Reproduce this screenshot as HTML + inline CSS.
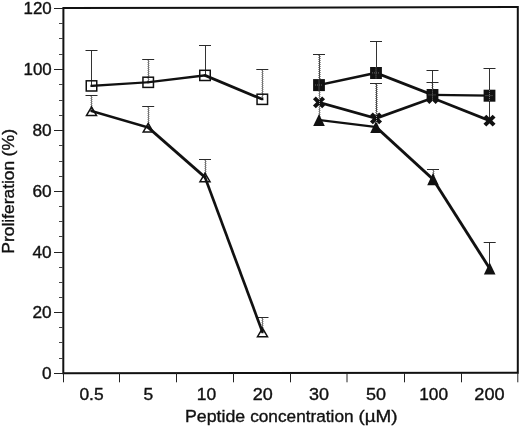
<!DOCTYPE html>
<html><head><meta charset="utf-8"><title>chart</title>
<style>
html,body{margin:0;padding:0;background:#fff;}
body{width:520px;height:427px;overflow:hidden;}
svg{display:block;filter:grayscale(1);}
text{font-family:"Liberation Sans",sans-serif;fill:#111;stroke:#111;stroke-width:0.35px;}
</style></head><body>
<svg width="520" height="427" viewBox="0 0 520 427">
<rect x="0" y="0" width="520" height="427" fill="#fff"/>

<polygon points="63.4,8.1 517.8,7.0 517.8,372.7 63.3,373.2" fill="none" stroke="#111" stroke-width="2"/>
<line x1="54" y1="373.50" x2="63" y2="373.50" stroke="#222" stroke-width="1"/>
<line x1="59" y1="358.50" x2="63" y2="358.50" stroke="#444" stroke-width="1"/>
<line x1="59" y1="342.50" x2="63" y2="342.50" stroke="#444" stroke-width="1"/>
<line x1="59" y1="327.50" x2="63" y2="327.50" stroke="#444" stroke-width="1"/>
<line x1="54" y1="312.50" x2="63" y2="312.50" stroke="#222" stroke-width="1"/>
<line x1="59" y1="297.50" x2="63" y2="297.50" stroke="#444" stroke-width="1"/>
<line x1="59" y1="282.50" x2="63" y2="282.50" stroke="#444" stroke-width="1"/>
<line x1="59" y1="267.50" x2="63" y2="267.50" stroke="#444" stroke-width="1"/>
<line x1="54" y1="252.50" x2="63" y2="252.50" stroke="#222" stroke-width="1"/>
<line x1="59" y1="236.50" x2="63" y2="236.50" stroke="#444" stroke-width="1"/>
<line x1="59" y1="221.50" x2="63" y2="221.50" stroke="#444" stroke-width="1"/>
<line x1="59" y1="206.50" x2="63" y2="206.50" stroke="#444" stroke-width="1"/>
<line x1="54" y1="191.50" x2="63" y2="191.50" stroke="#222" stroke-width="1"/>
<line x1="59" y1="176.50" x2="63" y2="176.50" stroke="#444" stroke-width="1"/>
<line x1="59" y1="161.50" x2="63" y2="161.50" stroke="#444" stroke-width="1"/>
<line x1="59" y1="145.50" x2="63" y2="145.50" stroke="#444" stroke-width="1"/>
<line x1="54" y1="130.50" x2="63" y2="130.50" stroke="#222" stroke-width="1"/>
<line x1="59" y1="115.50" x2="63" y2="115.50" stroke="#444" stroke-width="1"/>
<line x1="59" y1="100.50" x2="63" y2="100.50" stroke="#444" stroke-width="1"/>
<line x1="59" y1="84.50" x2="63" y2="84.50" stroke="#444" stroke-width="1"/>
<line x1="54" y1="69.50" x2="63" y2="69.50" stroke="#222" stroke-width="1"/>
<line x1="59" y1="54.50" x2="63" y2="54.50" stroke="#444" stroke-width="1"/>
<line x1="59" y1="38.50" x2="63" y2="38.50" stroke="#444" stroke-width="1"/>
<line x1="59" y1="23.50" x2="63" y2="23.50" stroke="#444" stroke-width="1"/>
<line x1="54" y1="8.50" x2="63" y2="8.50" stroke="#222" stroke-width="1"/>
<line x1="63.50" y1="373" x2="63.50" y2="382.3" stroke="#222" stroke-width="1"/>
<line x1="119.50" y1="373" x2="119.50" y2="382.3" stroke="#222" stroke-width="1"/>
<line x1="176.50" y1="373" x2="176.50" y2="382.3" stroke="#222" stroke-width="1"/>
<line x1="233.50" y1="373" x2="233.50" y2="382.3" stroke="#222" stroke-width="1"/>
<line x1="290.50" y1="373" x2="290.50" y2="382.3" stroke="#222" stroke-width="1"/>
<line x1="347.00" y1="373" x2="347.00" y2="382.3" stroke="#222" stroke-width="1"/>
<line x1="404.50" y1="373" x2="404.50" y2="382.3" stroke="#222" stroke-width="1"/>
<line x1="461.50" y1="373" x2="461.50" y2="382.3" stroke="#222" stroke-width="1"/>
<line x1="517.80" y1="373" x2="517.80" y2="382.3" stroke="#222" stroke-width="1"/>
<text x="51.7" y="379.10" font-size="15.8" text-anchor="end" textLength="9.6" lengthAdjust="spacingAndGlyphs">0</text>
<text x="51.7" y="318.10" font-size="15.8" text-anchor="end" textLength="19.2" lengthAdjust="spacingAndGlyphs">20</text>
<text x="51.7" y="257.70" font-size="15.8" text-anchor="end" textLength="19.2" lengthAdjust="spacingAndGlyphs">40</text>
<text x="51.7" y="197.20" font-size="15.8" text-anchor="end" textLength="19.2" lengthAdjust="spacingAndGlyphs">60</text>
<text x="51.7" y="136.30" font-size="15.8" text-anchor="end" textLength="19.2" lengthAdjust="spacingAndGlyphs">80</text>
<text x="51.7" y="75.30" font-size="15.8" text-anchor="end" textLength="28.2" lengthAdjust="spacingAndGlyphs">100</text>
<text x="51.7" y="13.60" font-size="15.8" text-anchor="end" textLength="28.2" lengthAdjust="spacingAndGlyphs">120</text>
<text x="91.5" y="399.7" font-size="15.8" text-anchor="middle" textLength="24.2" lengthAdjust="spacingAndGlyphs">0.5</text>
<text x="148.3" y="399.7" font-size="15.8" text-anchor="middle" textLength="9.7" lengthAdjust="spacingAndGlyphs">5</text>
<text x="206.5" y="399.7" font-size="15.8" text-anchor="middle" textLength="19.4" lengthAdjust="spacingAndGlyphs">10</text>
<text x="262.7" y="399.7" font-size="15.8" text-anchor="middle" textLength="20.0" lengthAdjust="spacingAndGlyphs">20</text>
<text x="319" y="399.7" font-size="15.8" text-anchor="middle" textLength="20.0" lengthAdjust="spacingAndGlyphs">30</text>
<text x="376" y="399.7" font-size="15.8" text-anchor="middle" textLength="20.0" lengthAdjust="spacingAndGlyphs">50</text>
<text x="433.6" y="399.7" font-size="15.8" text-anchor="middle" textLength="28.8" lengthAdjust="spacingAndGlyphs">100</text>
<text x="489.5" y="399.7" font-size="15.8" text-anchor="middle" textLength="30.3" lengthAdjust="spacingAndGlyphs">200</text>
<text x="185.0" y="421.5" font-size="16.9" textLength="60.2" lengthAdjust="spacingAndGlyphs">Peptide</text>
<text x="250.2" y="421.5" font-size="16.9" textLength="103.4" lengthAdjust="spacingAndGlyphs">concentration</text>
<text x="358.4" y="421.5" font-size="16.9" textLength="39.2" lengthAdjust="spacingAndGlyphs">(µM)</text>
<text transform="translate(14.3,253.7) rotate(-90)" font-size="16.5" textLength="92.9" lengthAdjust="spacingAndGlyphs">Proliferation</text>
<text transform="translate(14.3,156.4) rotate(-90)" font-size="16.5" textLength="27.5" lengthAdjust="spacingAndGlyphs">(%)</text>
<line x1="91.5" y1="50.5" x2="91.5" y2="85.9" stroke="#333" stroke-width="1"/>
<line x1="85.5" y1="50.5" x2="97.5" y2="50.5" stroke="#2a2a2a" stroke-width="1"/>
<line x1="148.2" y1="60.0" x2="148.2" y2="82.3" stroke="#3a3a3a" stroke-width="1" stroke-dasharray="1 1"/>
<line x1="148.8" y1="60.0" x2="148.8" y2="82.3" stroke="#3a3a3a" stroke-width="1" stroke-dasharray="1 1" stroke-dashoffset="1"/>
<line x1="142.2" y1="59.5" x2="154.2" y2="59.5" stroke="#2a2a2a" stroke-width="1"/>
<line x1="205.5" y1="45.5" x2="205.5" y2="75.4" stroke="#333" stroke-width="1"/>
<line x1="199" y1="45.5" x2="211" y2="45.5" stroke="#2a2a2a" stroke-width="1"/>
<line x1="262.2" y1="70.0" x2="262.2" y2="99.3" stroke="#3a3a3a" stroke-width="1" stroke-dasharray="1 1"/>
<line x1="262.8" y1="70.0" x2="262.8" y2="99.3" stroke="#3a3a3a" stroke-width="1" stroke-dasharray="1 1" stroke-dashoffset="1"/>
<line x1="256.3" y1="69.5" x2="268.3" y2="69.5" stroke="#2a2a2a" stroke-width="1"/>
<line x1="91.2" y1="96.0" x2="91.2" y2="111" stroke="#3a3a3a" stroke-width="1" stroke-dasharray="1 1"/>
<line x1="91.8" y1="96.0" x2="91.8" y2="111" stroke="#3a3a3a" stroke-width="1" stroke-dasharray="1 1" stroke-dashoffset="1"/>
<line x1="85.5" y1="95.5" x2="97.5" y2="95.5" stroke="#2a2a2a" stroke-width="1"/>
<line x1="148.2" y1="107.0" x2="148.2" y2="127.5" stroke="#3a3a3a" stroke-width="1" stroke-dasharray="1 1"/>
<line x1="148.8" y1="107.0" x2="148.8" y2="127.5" stroke="#3a3a3a" stroke-width="1" stroke-dasharray="1 1" stroke-dashoffset="1"/>
<line x1="142.2" y1="106.5" x2="154.2" y2="106.5" stroke="#2a2a2a" stroke-width="1"/>
<line x1="205.2" y1="160.0" x2="205.2" y2="177.25" stroke="#3a3a3a" stroke-width="1" stroke-dasharray="1 1"/>
<line x1="205.8" y1="160.0" x2="205.8" y2="177.25" stroke="#3a3a3a" stroke-width="1" stroke-dasharray="1 1" stroke-dashoffset="1"/>
<line x1="199" y1="159.5" x2="211" y2="159.5" stroke="#2a2a2a" stroke-width="1"/>
<line x1="262.2" y1="318.0" x2="262.2" y2="332.25" stroke="#3a3a3a" stroke-width="1" stroke-dasharray="1 1"/>
<line x1="262.8" y1="318.0" x2="262.8" y2="332.25" stroke="#3a3a3a" stroke-width="1" stroke-dasharray="1 1" stroke-dashoffset="1"/>
<line x1="256.5" y1="317.5" x2="268.5" y2="317.5" stroke="#2a2a2a" stroke-width="1"/>
<line x1="319.2" y1="55.0" x2="319.2" y2="85" stroke="#3a3a3a" stroke-width="1" stroke-dasharray="1 1"/>
<line x1="319.8" y1="55.0" x2="319.8" y2="85" stroke="#3a3a3a" stroke-width="1" stroke-dasharray="1 1" stroke-dashoffset="1"/>
<line x1="313" y1="54.5" x2="325" y2="54.5" stroke="#2a2a2a" stroke-width="1"/>
<line x1="376.5" y1="41.5" x2="376.5" y2="72.9" stroke="#333" stroke-width="1"/>
<line x1="370" y1="41.5" x2="382" y2="41.5" stroke="#2a2a2a" stroke-width="1"/>
<line x1="432.5" y1="70.5" x2="432.5" y2="94.9" stroke="#333" stroke-width="1"/>
<line x1="426.5" y1="70.5" x2="438.5" y2="70.5" stroke="#2a2a2a" stroke-width="1"/>
<line x1="489.5" y1="68.5" x2="489.5" y2="95.6" stroke="#333" stroke-width="1"/>
<line x1="483.5" y1="68.5" x2="495.5" y2="68.5" stroke="#2a2a2a" stroke-width="1"/>
<line x1="376.2" y1="84.0" x2="376.2" y2="118.4" stroke="#3a3a3a" stroke-width="1" stroke-dasharray="1 1"/>
<line x1="376.8" y1="84.0" x2="376.8" y2="118.4" stroke="#3a3a3a" stroke-width="1" stroke-dasharray="1 1" stroke-dashoffset="1"/>
<line x1="370" y1="83.5" x2="382" y2="83.5" stroke="#2a2a2a" stroke-width="1"/>
<line x1="432.2" y1="83.0" x2="432.2" y2="98.0" stroke="#3a3a3a" stroke-width="1" stroke-dasharray="1 1"/>
<line x1="432.8" y1="83.0" x2="432.8" y2="98.0" stroke="#3a3a3a" stroke-width="1" stroke-dasharray="1 1" stroke-dashoffset="1"/>
<line x1="426.5" y1="82.5" x2="438.5" y2="82.5" stroke="#2a2a2a" stroke-width="1"/>
<line x1="433.2" y1="170.0" x2="433.2" y2="179.2" stroke="#3a3a3a" stroke-width="1" stroke-dasharray="1 1"/>
<line x1="433.8" y1="170.0" x2="433.8" y2="179.2" stroke="#3a3a3a" stroke-width="1" stroke-dasharray="1 1" stroke-dashoffset="1"/>
<line x1="427" y1="169.5" x2="439" y2="169.5" stroke="#2a2a2a" stroke-width="1"/>
<line x1="489.5" y1="242.5" x2="489.5" y2="268.5" stroke="#333" stroke-width="1"/>
<line x1="483.7" y1="242.5" x2="495.7" y2="242.5" stroke="#2a2a2a" stroke-width="1"/>
<line x1="319.2" y1="55" x2="319.2" y2="118" stroke="#3a3a3a" stroke-width="1" stroke-dasharray="1 1"/>
<line x1="319.8" y1="55" x2="319.8" y2="118" stroke="#3a3a3a" stroke-width="1" stroke-dasharray="1 1" stroke-dashoffset="1"/>
<line x1="376.2" y1="84" x2="376.2" y2="125" stroke="#3a3a3a" stroke-width="1" stroke-dasharray="1 1"/>
<line x1="376.8" y1="84" x2="376.8" y2="125" stroke="#3a3a3a" stroke-width="1" stroke-dasharray="1 1" stroke-dashoffset="1"/>
<line x1="489.5" y1="68.25" x2="489.5" y2="120" stroke="#333" stroke-width="1"/>
<polygon points="90.45,84.85 147.15,81.25 149.25,81.25 149.25,83.35 92.55,86.95 90.45,86.95" fill="#111"/>
<polygon points="147.15,81.25 203.95,74.35 206.05,74.35 206.05,76.45 149.25,83.35 147.15,83.35" fill="#111"/>
<polygon points="203.95,74.35 206.05,74.35 263.35,98.25 263.35,100.35 261.25,100.35 203.95,76.45" fill="#111"/>
<polygon points="90.45,109.95 92.55,109.95 149.25,126.45 149.25,128.55 147.15,128.55 90.45,112.05" fill="#111"/>
<polygon points="147.15,126.45 149.25,126.45 206.05,176.2 206.05,178.3 203.95,178.3 147.15,128.55" fill="#111"/>
<polygon points="203.95,176.2 206.05,176.2 263.55,331.2 263.55,333.3 261.45,333.3 203.95,178.3" fill="#111"/>
<polygon points="317.95,83.95 374.95,71.85 377.05,71.85 377.05,73.95 320.05,86.05 317.95,86.05" fill="#111"/>
<polygon points="374.95,71.85 377.05,71.85 433.55,93.85 433.55,95.95 431.45,95.95 374.95,73.95" fill="#111"/>
<polygon points="431.45,93.85 433.55,93.85 490.55,94.55 490.55,96.65 488.45,96.65 431.45,95.95" fill="#111"/>
<polygon points="317.95,101.35 320.05,101.35 377.05,117.35 377.05,119.45 374.95,119.45 317.95,103.45" fill="#111"/>
<polygon points="374.95,117.35 431.45,96.95 433.55,96.95 433.55,99.05 377.05,119.45 374.95,119.45" fill="#111"/>
<polygon points="431.45,96.95 433.55,96.95 490.55,119.55 490.55,121.65 488.45,121.65 431.45,99.05" fill="#111"/>
<polygon points="317.95,118.95 320.05,118.95 377.05,125.95 377.05,128.05 374.95,128.05 317.95,121.05" fill="#111"/>
<polygon points="374.95,125.95 377.05,125.95 434.05,178.15 434.05,180.25 431.95,180.25 374.95,128.05" fill="#111"/>
<polygon points="431.95,178.15 434.05,178.15 490.75,267.45 490.75,269.55 488.65,269.55 431.95,180.25" fill="#111"/>
<rect x="86.25" y="80.80000000000001" width="10.5" height="10.2" fill="none" stroke="#111" stroke-width="1.5"/>
<rect x="142.95" y="77.2" width="10.5" height="10.2" fill="none" stroke="#111" stroke-width="1.5"/>
<rect x="199.75" y="70.30000000000001" width="10.5" height="10.2" fill="none" stroke="#111" stroke-width="1.5"/>
<rect x="257.05" y="94.2" width="10.5" height="10.2" fill="none" stroke="#111" stroke-width="1.5"/>
<polygon points="91.5,107.0 96.5,115.4 86.5,115.4" fill="none" stroke="#111" stroke-width="1.5" stroke-linejoin="miter"/>
<polygon points="148.2,123.5 153.2,131.9 143.2,131.9" fill="none" stroke="#111" stroke-width="1.5" stroke-linejoin="miter"/>
<polygon points="205,173.25 210.0,181.65 200.0,181.65" fill="none" stroke="#111" stroke-width="1.5" stroke-linejoin="miter"/>
<polygon points="262.5,328.25 267.5,336.65 257.5,336.65" fill="none" stroke="#111" stroke-width="1.5" stroke-linejoin="miter"/>
<rect x="313.1" y="79.1" width="11.8" height="12" fill="#111"/>
<rect x="370.1" y="67.0" width="11.8" height="12" fill="#111"/>
<rect x="426.6" y="89.0" width="11.8" height="12" fill="#111"/>
<rect x="483.6" y="89.69999999999999" width="11.8" height="12" fill="#111"/>
<path d="M314.4,97.9 L323.6,106.9 M323.6,97.9 L314.4,106.9" stroke="#111" stroke-width="4.1" fill="none"/>
<path d="M371.4,113.9 L380.6,122.9 M380.6,113.9 L371.4,122.9" stroke="#111" stroke-width="4.1" fill="none"/>
<path d="M427.9,93.5 L437.1,102.5 M437.1,93.5 L427.9,102.5" stroke="#111" stroke-width="4.1" fill="none"/>
<path d="M484.9,116.1 L494.1,125.1 M494.1,116.1 L484.9,125.1" stroke="#111" stroke-width="4.1" fill="none"/>
<polygon points="319,113.9 324.8,126.0 313.2,126.0" fill="#111"/>
<polygon points="376,120.9 381.8,133.0 370.2,133.0" fill="#111"/>
<polygon points="433,173.1 438.8,185.2 427.2,185.2" fill="#111"/>
<polygon points="489.7,262.4 495.5,274.5 483.9,274.5" fill="#111"/>
<line x1="319" y1="79.5" x2="319" y2="90.5" stroke="#777" stroke-width="1" stroke-dasharray="1 1"/>
<line x1="315" y1="85" x2="323" y2="85" stroke="#666" stroke-width="1" stroke-dasharray="1 1"/>
<line x1="376" y1="67.4" x2="376" y2="78.4" stroke="#777" stroke-width="1" stroke-dasharray="1 1"/>
<line x1="372" y1="72.9" x2="380" y2="72.9" stroke="#666" stroke-width="1" stroke-dasharray="1 1"/>
<line x1="432.5" y1="89.4" x2="432.5" y2="100.4" stroke="#777" stroke-width="1" stroke-dasharray="1 1"/>
<line x1="428.5" y1="94.9" x2="436.5" y2="94.9" stroke="#666" stroke-width="1" stroke-dasharray="1 1"/>
<line x1="489.5" y1="90.1" x2="489.5" y2="101.1" stroke="#777" stroke-width="1" stroke-dasharray="1 1"/>
<line x1="485.5" y1="95.6" x2="493.5" y2="95.6" stroke="#666" stroke-width="1" stroke-dasharray="1 1"/>
<line x1="376.5" y1="112" x2="376.5" y2="124" stroke="#999" stroke-width="1" stroke-dasharray="1 1"/>
<line x1="319.5" y1="97" x2="319.5" y2="108" stroke="#999" stroke-width="1" stroke-dasharray="1 1"/>
</svg></body></html>
